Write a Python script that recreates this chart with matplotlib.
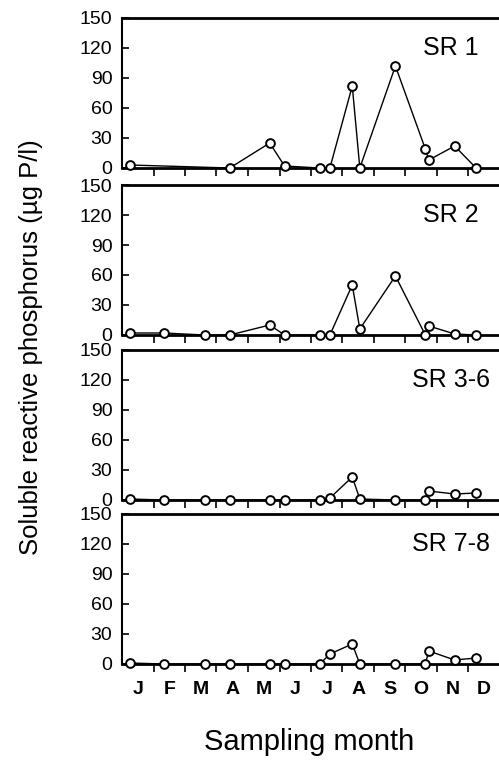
#!/usr/bin/env python3

import numpy as np
import matplotlib
matplotlib.use('Agg')
import matplotlib.pyplot as plt

plt.rcParams['font.family'] = ['Liberation Sans', 'DejaVu Sans']

# sampling dates, in months from 1 January
sample_month = [0.25, 1.33, 2.62, 3.42, 4.69, 5.16, 6.28, 6.60, 7.31, 7.55, 8.68, 9.63, 9.74, 10.56, 11.24]
nan = np.nan
sr1 = [3, nan, nan, 0, 25, 2, 0, 0, 82, 0, 102, 19, 8, 22, 0]
sr2 = [2, 2, 0, 0, 10, 0, 0, 0, 50, 6, 59, 0, 9, 1, 0]
sr36 = [1, 0, 0, 0, 0, 0, 0, 2, 23, 1, 0, 0, 9, 6, 7]
sr78 = [1, 0, 0, 0, 0, 0, 0, 10, 20, 0, 0, 0, 13, 4, 6]

panels = ['SR 1', 'SR 2', 'SR 3-6', 'SR 7-8']
series = [sr1, sr2, sr36, sr78]
months = ['J', 'F', 'M', 'A', 'M', 'J', 'J', 'A', 'S', 'O', 'N', 'D']
yticks = [0, 30, 60, 90, 120, 150]

W, H = 499, 762
fig = plt.figure(figsize=(W / 100, H / 100), dpi=100)

tops = [18, 185, 350, 514]   # pixel rows of panel tops
ph = 150                     # panel height in pixels
left, width = 122, 378

for i, (name, vals) in enumerate(zip(panels, series)):
    bottom = 1 - (tops[i] + ph) / H
    ax = fig.add_axes([left / W, bottom, width / W, ph / H])

    x = np.array(sample_month)
    y = np.array(vals, dtype=float)
    ok = ~np.isnan(y)
    ax.plot(x[ok], y[ok], '-', color='black', lw=1.0, zorder=3, clip_on=False)
    ax.plot(x[ok], y[ok], 'o', mfc='white', mec='black', ms=6.3, mew=1.4,
            zorder=4, clip_on=False)

    ax.set_xlim(0, 12)
    ax.set_ylim(0, 150)
    ax.set_yticks(yticks)
    ax.tick_params(axis='y', direction='in', length=5, width=1.2,
                   labelsize=14, pad=7)

    # ticks at month boundaries, letters at month centres
    ax.set_xticks(np.arange(1, 12), minor=True)
    ax.set_xticks(np.arange(12) + 0.5)
    ax.tick_params(axis='x', which='minor', direction='out', length=6, width=1.2)
    if i == len(panels) - 1:
        ax.set_xticklabels(months, fontweight='bold')
        ax.tick_params(axis='x', which='major', length=0, labelsize=14, pad=12)
    else:
        ax.set_xticklabels([])
        ax.tick_params(axis='x', which='major', length=0)

    ax.spines['right'].set_visible(False)
    ax.spines['top'].set_linewidth(2.0)
    ax.spines['bottom'].set_linewidth(2.0)
    ax.spines['left'].set_linewidth(1.5)

    ax.text(0.87, 0.80, name, transform=ax.transAxes, ha='center', va='center',
            fontsize=18)

fig.text(0.062, 0.545, 'Soluble reactive phosphorus (µg P/l)', rotation=90,
         ha='center', va='center', fontsize=18.5)
fig.text(0.619, 0.0157, 'Sampling month', ha='center', va='baseline',
         fontsize=21)

fig.savefig('out.png', dpi=100)
